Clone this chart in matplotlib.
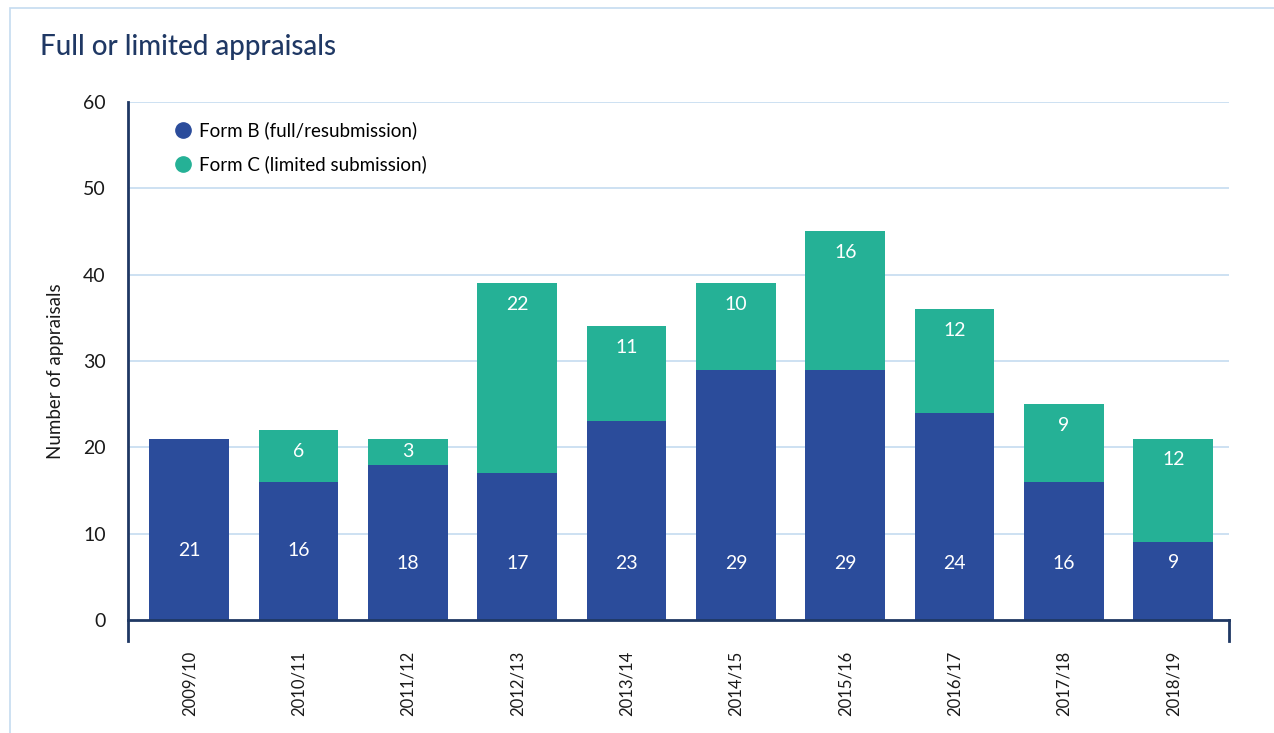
import matplotlib.pyplot as plt
from matplotlib.patches import Rectangle
from matplotlib.lines import Line2D

plt.rcParams['font.family'] = ['Lato', 'DejaVu Sans']

# Appraisals per financial year
years = ['2009/10', '2010/11', '2011/12', '2012/13', '2013/14',
         '2014/15', '2015/16', '2016/17', '2017/18', '2018/19']
form_b = [21, 16, 18, 17, 23, 29, 29, 24, 16, 9]
form_c = [0, 6, 3, 22, 11, 10, 16, 12, 9, 12]

blue = '#2B4C9B'
green = '#25B196'
navy = '#1F3864'
grid_blue = '#C5DBF0'

fig = plt.figure(figsize=(12.74, 7.33), dpi=100)

# light frame around the panel
fig.patches.append(Rectangle((10 / 1274, -0.2), 1.5, 1 - 8 / 733 + 0.2,
                             transform=fig.transFigure, fill=False,
                             edgecolor='#C5DBF0', linewidth=1.2))

ax = fig.add_axes([128 / 1274, 1 - 641 / 733, (1229 - 128) / 1274, (641 - 102) / 733])
ymin = -21 / 8.633
ax.set_ylim(ymin, 60)
ax.set_xlim(-0.56, 9.51)

# spines first: moving a spine resets the tick settings
ax.spines['top'].set_visible(False)
ax.spines['bottom'].set_position(('data', 0))
for s in ['left', 'bottom', 'right']:
    ax.spines[s].set_color(navy)
    ax.spines[s].set_linewidth(2)
ax.spines['bottom'].set_zorder(5)
ax.spines['right'].set_bounds(ymin, 0)

x = range(len(years))
ax.bar(x, form_b, width=0.73, color=blue, zorder=3)
ax.bar(x, form_c, width=0.73, bottom=form_b, color=green, zorder=3)

# value labels
b_label_y = [8.1, 8.1, 6.5, 6.5, 6.5, 6.5, 6.5, 6.5, 6.5, 6.7]
for i in x:
    ax.text(i, b_label_y[i], str(form_b[i]), ha='center', va='center',
            color='white', fontsize=14, zorder=4)
    if form_c[i] > 0:
        top = form_b[i] + form_c[i]
        yy = top - min(2.45, form_c[i] / 2)
        ax.text(i, yy, str(form_c[i]), ha='center', va='center',
                color='white', fontsize=14, zorder=4)

ax.set_yticks(range(0, 61, 10))
ax.set_yticklabels([str(v) for v in range(0, 61, 10)], fontsize=14, color='#1a1a1a')
for v in range(10, 61, 10):
    ax.axhline(v, color=grid_blue, linewidth=1.2, zorder=1)

ax.set_xticks(list(x))
ax.set_xticklabels(years, rotation=90, fontsize=12, color='#1a1a1a')
ax.tick_params(axis='both', length=0)
ax.tick_params(axis='x', pad=22)
ax.tick_params(axis='y', pad=16)

ax.set_ylabel('Number of appraisals', fontsize=13.5, color='#1a1a1a', labelpad=14)

handles = [Line2D([], [], marker='o', linestyle='', markersize=11, color=blue),
           Line2D([], [], marker='o', linestyle='', markersize=11, color=green)]
leg = ax.legend(handles, ['Form B (full/resubmission)', 'Form C (limited submission)'],
                loc='upper left', bbox_to_anchor=(0.022, 0.995), frameon=False,
                fontsize=13.5, handletextpad=0.1, labelspacing=0.85, handlelength=1.5)

fig.text(40 / 1274, 1 - 47 / 733, 'Full or limited appraisals', fontsize=20,
         fontweight='medium', color=navy, va='center', ha='left')

fig.savefig('out.png', dpi=100)
